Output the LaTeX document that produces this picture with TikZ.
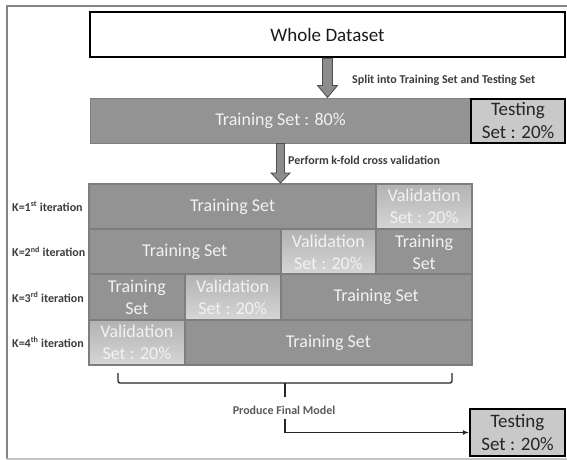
\documentclass[tikz,border=0pt]{standalone}
\usepackage{fontspec}
\setmainfont{Carlito}
\usetikzlibrary{calc,arrows.meta}
\definecolor{framec}{HTML}{858585}
\definecolor{framelt}{HTML}{C4C4C4}
\definecolor{cellgray}{HTML}{939393}
\definecolor{celledge}{HTML}{7E7E7E}
\definecolor{valtop}{HTML}{B2B2B2}
\definecolor{valbot}{HTML}{D6D6D6}
\definecolor{testfill}{HTML}{C9C9C9}
\definecolor{celltext}{HTML}{F2F2F2}
\definecolor{smalltext}{HTML}{3C3C3C}
\definecolor{arrowfill}{HTML}{8C8C8C}
\definecolor{arrowedge}{HTML}{4D4D4D}
\tikzset{
  bigfont/.style={font=\fontsize{18}{22}\selectfont},
  cell/.style={rectangle, draw=celledge, line width=2pt, fill=cellgray, text=celltext,
    bigfont, align=center, inner sep=0pt, minimum height=45.25pt},
  valcell/.style={cell, top color=valtop, bottom color=valbot},
  testbox/.style={rectangle, draw=black, line width=2.2pt, fill=testfill, text=black!85,
    font=\fontsize{19}{23}\selectfont, align=center, inner sep=0pt},
  smalllabel/.style={text=smalltext, font=\fontsize{12}{14}\selectfont\bfseries, inner sep=0pt},
  blockarr/.style={fill=arrowfill, draw=arrowedge, line width=0.8pt},
}
\begin{document}
\begin{tikzpicture}[x=1pt,y=-1pt]
\useasboundingbox (0,0) rectangle (567,460);
% outer frame
\draw[framec, line width=1.5pt] (570,6) -- (7,6) -- (7,459);
\draw[framelt, line width=1.5pt] (7,459) -- (570,459);

% top boxes
\node[rectangle, draw=black, line width=2.5pt, fill=white, minimum width=475pt, minimum height=45pt,
      inner sep=0pt, font=\fontsize{19}{23}\selectfont, text=black!90] (whole) at (327.5,34.5) {Whole Dataset};
\node[rectangle, draw=celledge, line width=1pt, fill=cellgray, minimum width=381pt, minimum height=45pt,
      inner sep=0pt, bigfont, text=celltext] (train) at (280.5,120.5) {Training Set : 80\%};
\node[testbox, minimum width=94pt, minimum height=44pt] (test1) at (518,121) {Testing\\Set : 20\%};

% grid rows
% row 1
\node[cell, minimum width=287.25pt] (r1a) at (232.625,206.6) {Training Set};
\node[valcell, minimum width=95.75pt] (r1b) at (424.125,206.6) {Validation\\Set : 20\%};
% row 2
\node[cell, minimum width=191.5pt] (r2a) at (184.75,251.9) {Training Set};
\node[valcell, minimum width=95.75pt] (r2b) at (328.375,251.9) {Validation\\Set : 20\%};
\node[cell, minimum width=95.75pt] (r2c) at (424.125,251.9) {Training\\Set};
% row 3
\node[cell, minimum width=95.75pt] (r3a) at (136.875,297.1) {Training\\Set};
\node[valcell, minimum width=95.75pt] (r3b) at (232.625,297.1) {Validation\\Set : 20\%};
\node[cell, minimum width=191.5pt] (r3c) at (376.25,297.1) {Training Set};
% row 4
\node[valcell, minimum width=95.75pt] (r4a) at (136.875,342.4) {Validation\\Set : 20\%};
\node[cell, minimum width=287.25pt] (r4b) at (328.375,342.4) {Training Set};

% row labels
\node[smalllabel, anchor=west] (k1) at (12,206.6) {K=1\textsuperscript{st} iteration};
\node[smalllabel, anchor=west] (k2) at (12,251.9) {K=2\textsuperscript{nd} iteration};
\node[smalllabel, anchor=west] (k3) at (12,297.1) {K=3\textsuperscript{rd} iteration};
\node[smalllabel, anchor=west] (k4) at (12,342.4) {K=4\textsuperscript{th} iteration};

% block arrows
\draw[blockarr] let \p1=(whole.south), \p2=(whole.south |- train.north) in
  (\x1-5pt,\y1) -- (\x1+5pt,\y1) -- (\x1+5pt,\y2+12pt) -- (\x1+10pt,\y2+12pt) -- (\x2,\y2)
  -- (\x1-10pt,\y2+12pt) -- (\x1-5pt,\y2+12pt) -- cycle;
\draw[blockarr] let \p1=(train.south), \p2=(train.south |- r1a.north) in
  (\x1-4pt,\y1) -- (\x1+4pt,\y1) -- (\x1+4pt,\y2+10pt) -- (\x1+9.5pt,\y2+10pt) -- (\x2,\y2)
  -- (\x1-9.5pt,\y2+10pt) -- (\x1-4pt,\y2+10pt) -- cycle;

\node[smalllabel, anchor=west] (split) at (352,80) {Split into Training Set and Testing Set};
\node[smalllabel, anchor=west] (kfold) at (288,160) {Perform k-fold cross validation};

% bracket
\coordinate (bl) at (118,373);
\coordinate (br) at (452,373);
\coordinate (bc) at (285,383);
\draw[black!85, line width=1.3pt, rounded corners=2pt] (bl) -- (bl |- bc) -- (br |- bc) -- (br);
\node[smalllabel, text=black!65] (produce) at (284,410) {Produce Final Model};
\draw[black!85, line width=1.3pt] (bc) -- ($(bc)+(0,14)$);

\node[testbox, minimum width=95pt, minimum height=47pt] (test2) at (517.5,432.5) {Testing\\Set : 20\%};
\draw[black!85, line width=1.1pt, -{Latex[length=6pt,width=5pt]}]
  ($(produce.south -| bc)+(0,5)$) |- (test2.west);
\end{tikzpicture}
\end{document}
